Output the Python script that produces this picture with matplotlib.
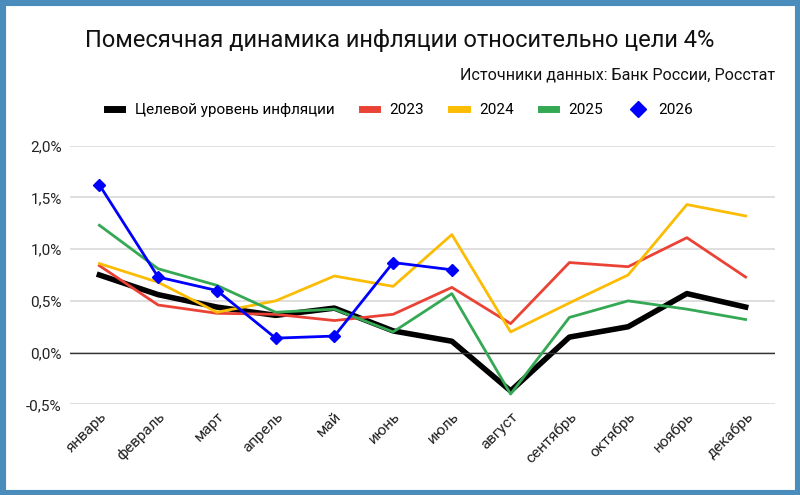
import matplotlib
matplotlib.use('Agg')
import matplotlib.pyplot as plt
from matplotlib.lines import Line2D
from matplotlib.patches import Rectangle
from matplotlib.ticker import FuncFormatter, MultipleLocator

plt.rcParams['font.family'] = ['Roboto', 'DejaVu Sans']

months = ['январь', 'февраль', 'март', 'апрель', 'май', 'июнь',
          'июль', 'август', 'сентябрь', 'октябрь', 'ноябрь', 'декабрь']

target = [0.75, 0.56, 0.44, 0.36, 0.43, 0.21, 0.11, -0.37, 0.15, 0.25, 0.57, 0.44]
y2023 = [0.84, 0.46, 0.38, 0.37, 0.31, 0.37, 0.63, 0.28, 0.87, 0.83, 1.11, 0.73]
y2024 = [0.86, 0.68, 0.39, 0.50, 0.74, 0.64, 1.14, 0.20, 0.48, 0.75, 1.43, 1.32]
y2025 = [1.23, 0.81, 0.65, 0.39, 0.42, 0.20, 0.57, -0.40, 0.34, 0.50, 0.42, 0.32]
y2026 = [1.62, 0.73, 0.60, 0.14, 0.16, 0.87, 0.80]

fig = plt.figure(figsize=(8, 4.95), dpi=100)
ax = fig.add_axes([0.0875, 0.183, 0.88125, 0.523])

x = list(range(len(months)))
ax.plot(x, y2023, color='#ea4335', lw=2, zorder=3)
ax.plot(x, y2024, color='#fbbc04', lw=2, zorder=3)
ax.plot(x, y2025, color='#34a853', lw=2, zorder=4)
ax.plot(x, target, color='black', lw=4, zorder=2)
ax.plot(x[:len(y2026)], y2026, color='#0000ff', lw=2, marker='D', ms=6.5, zorder=5)

ax.set_xlim(-0.5, 11.5)
ax.set_ylim(-0.5, 2.0)
ax.yaxis.set_major_locator(MultipleLocator(0.5))
ax.yaxis.set_major_formatter(FuncFormatter(lambda v, p: f'{v:.1f}%'.replace('.', ',')))
ax.grid(axis='y', color='#d9d9d9', lw=1.2)
ax.axhline(0, color='#333333', lw=1, zorder=2)
ax.set_axisbelow(True)
for s in ax.spines.values():
    s.set_visible(False)
ax.tick_params(length=0, labelsize=11, colors='#222222')
ax.tick_params(axis='y', pad=6)
ax.set_xticks(x)
ax.set_xticklabels(months, rotation=45, ha='right', rotation_mode='anchor', fontsize=11)

fig.text(0.5, 1 - 40 / 495, 'Помесячная динамика инфляции относительно цели 4%',
         ha='center', va='center', fontsize=17, color='#111111')
fig.text(775 / 800, 1 - 75 / 495, 'Источники данных: Банк России, Росстат',
         ha='right', va='center', fontsize=11.6, color='#111111')

handles = [
    Line2D([], [], color='black', lw=5),
    Line2D([], [], color='#ea4335', lw=5),
    Line2D([], [], color='#fbbc04', lw=5),
    Line2D([], [], color='#34a853', lw=5),
    Line2D([], [], color='#0000ff', lw=0, marker='D', ms=8),
]
labels = ['Целевой уровень инфляции', '2023', '2024', '2025', '2026']
fig.legend(handles, labels, loc='center', bbox_to_anchor=(0.5, 1 - 110 / 495), ncol=5,
           frameon=False, fontsize=11, handlelength=1.0, columnspacing=1.8, handletextpad=0.8)

fig.patches.append(Rectangle((0, 0), 1, 1, transform=fig.transFigure, fill=False,
                             edgecolor='#4a8cbc', lw=8, zorder=10))

fig.savefig('out.png', dpi=100)
